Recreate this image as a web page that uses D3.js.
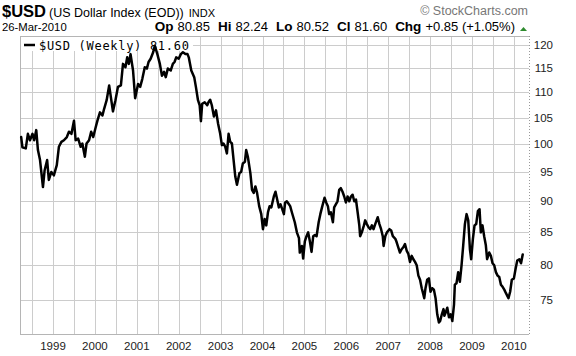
<!DOCTYPE html>
<html><head><meta charset="utf-8">
<script src="https://cdn.jsdelivr.net/npm/d3@7"></script>
<style>body{margin:0;background:#fff}svg{display:block;font-family:"Liberation Sans",Arial,sans-serif}</style>
</head><body>
<svg id="c" width="576" height="356"></svg>
<script>
// decimal-year week positions and weekly closes
const weeks = [1998.24,1998.27,1998.35,1998.40,1998.45,1998.51,1998.55,1998.60,1998.64,1998.69,1998.76,1998.80,1998.86,1998.90,1998.96,
1999.02,1999.09,1999.14,1999.20,1999.26,1999.33,1999.38,1999.44,1999.50,1999.54,1999.60,1999.66,1999.70,1999.76,1999.80,1999.86,1999.91,1999.96,
2000.02,2000.06,2000.12,2000.18,2000.22,2000.28,2000.34,2000.43,2000.49,2000.55,2000.62,2000.67,2000.73,2000.77,2000.81,2000.85,2000.91,2000.96,
2001.03,2001.08,2001.13,2001.19,2001.24,2001.28,2001.33,2001.39,2001.43,2001.49,2001.55,2001.60,2001.65,2001.69,2001.74,2001.81,2001.86,2001.90,2001.94,
2002.00,2002.05,2002.10,2002.16,2002.21,2002.24,2002.30,2002.37,2002.41,2002.46,2002.50,2002.53,2002.56,2002.62,2002.68,2002.71,2002.75,2002.79,2002.84,2002.89,2002.94,2002.99,
2003.03,2003.07,2003.11,2003.15,2003.19,2003.23,2003.27,2003.31,2003.35,2003.39,2003.45,2003.49,2003.53,2003.58,2003.61,2003.65,2003.71,2003.75,2003.79,2003.83,2003.87,2003.92,2003.97,
2004.01,2004.05,2004.09,2004.13,2004.17,2004.21,2004.27,2004.31,2004.35,2004.39,2004.43,2004.47,2004.51,2004.54,2004.58,2004.63,2004.66,2004.70,2004.77,2004.82,2004.87,2004.89,2004.94,2004.97,
2005.01,2005.05,2005.09,2005.13,2005.17,2005.21,2005.25,2005.29,2005.34,2005.38,2005.42,2005.48,2005.52,2005.56,2005.59,2005.63,2005.68,2005.71,2005.75,2005.79,2005.83,2005.87,2005.91,2005.95,2005.99,
2006.03,2006.07,2006.11,2006.15,2006.19,2006.23,2006.27,2006.31,2006.33,2006.37,2006.42,2006.45,2006.49,2006.53,2006.57,2006.61,2006.65,2006.69,2006.75,2006.79,2006.83,2006.87,2006.89,2006.93,2006.97,
2007.03,2007.07,2007.11,2007.17,2007.20,2007.24,2007.28,2007.32,2007.36,2007.40,2007.44,2007.48,2007.52,2007.56,2007.60,2007.64,2007.68,2007.72,2007.76,2007.80,2007.84,2007.86,2007.89,2007.93,2007.97,
2008.01,2008.05,2008.09,2008.13,2008.17,2008.21,2008.24,2008.28,2008.32,2008.34,2008.37,2008.41,2008.45,2008.49,2008.53,2008.57,2008.59,2008.63,2008.67,2008.71,2008.75,2008.79,2008.83,2008.87,2008.91,2008.95,2008.98,
2009.02,2009.06,2009.10,2009.14,2009.18,2009.21,2009.25,2009.29,2009.33,2009.36,2009.41,2009.45,2009.49,2009.53,2009.57,2009.61,2009.65,2009.69,2009.73,2009.77,2009.81,2009.87,2009.91,2009.95,
2010.00,2010.04,2010.08,2010.13,2010.17,2010.21];
const closes = [101.3,99.4,99.2,101.9,100.7,101.9,100.7,102.6,98.9,97.1,92.4,95.3,97.1,93.6,95.0,
94.4,96.2,99.5,100.4,100.7,101.3,102.3,101.9,104.4,100.7,101.0,99.5,100.1,97.7,100.1,100.7,102.3,101.3,
103.2,104.4,106.0,105.4,106.7,108.4,111.4,106.2,108.4,111.1,111.4,115.9,115.2,117.3,115.9,118.0,114.5,108.8,
111.7,111.1,112.7,115.2,114.9,116.3,117.0,118.4,119.8,118.0,115.9,113.4,114.2,113.1,114.9,114.5,115.9,116.3,117.3,
117.0,118.0,118.4,118.0,118.0,117.3,114.5,113.1,111.1,108.4,107.4,104.3,107.7,108.0,107.4,108.0,108.5,107.4,105.2,106.4,103.8,101.9,
99.8,100.1,99.5,98.3,101.9,100.4,100.1,97.1,94.2,92.8,94.8,95.0,96.5,96.8,98.9,97.7,94.8,91.9,91.4,92.5,91.4,89.2,87.9,
85.5,87.1,86.1,88.2,89.2,89.0,90.8,91.6,90.3,89.0,89.5,88.7,87.9,89.8,90.0,89.5,89.2,88.2,86.6,85.0,84.1,81.9,82.9,81.0,
83.6,84.4,85.0,83.6,82.0,84.4,84.6,84.4,86.6,87.9,89.0,90.6,89.8,89.2,87.9,88.2,86.6,89.0,89.5,90.0,91.9,92.2,91.6,90.8,89.8,
90.8,90.0,90.8,91.1,90.0,90.3,88.2,86.1,84.4,85.0,86.1,86.9,86.3,85.8,85.5,86.1,85.5,86.3,87.4,86.3,85.5,84.4,82.9,84.4,85.0,
85.5,85.3,84.4,84.0,83.5,82.7,81.9,82.4,82.7,83.2,82.2,81.7,80.5,81.4,80.9,80.5,80.0,78.5,77.9,76.7,75.8,75.3,76.7,77.9,78.1,
76.2,76.7,76.5,75.3,73.1,72.0,72.2,73.1,73.8,72.9,73.3,74.0,72.7,73.1,72.2,74.4,77.2,77.4,79.0,77.6,80.0,83.0,86.3,87.9,86.9,82.4,80.9,
83.9,86.1,86.3,88.4,88.7,85.0,86.1,84.4,83.0,80.9,81.9,81.4,80.3,80.0,79.0,78.5,78.3,77.2,76.9,76.5,76.0,75.3,76.2,77.9,
78.1,79.5,80.7,80.9,80.3,81.6];
const yTicks = [75,80,85,90,95,100,105,110,115,120];
const yearLabels = [1999,2000,2001,2002,2003,2004,2005,2006,2007,2008,2009,2010];
const halfYearGrid = d3.range(1998.5, 2010.01, 0.5);

const svg = d3.select("#c");
const L = 20, R = 529, T = 36, B = 334;
const x = d3.scaleLinear().domain([1998.212, 2010.36]).range([L, R]);
const y = d3.scaleLog().domain([70.5, 122]).range([B, T]);

// header
const h1 = svg.append("text").attr("x", 2).attr("y", 17).attr("fill", "#000");
h1.append("tspan").attr("font-weight", "bold").attr("font-size", 16.5).text("$USD");
h1.append("tspan").attr("font-size", 12.5).attr("dx", 3).text("(US Dollar Index (EOD))");
h1.append("tspan").attr("font-size", 11).attr("dx", 5).text("INDX");
svg.append("text").attr("x", 2).attr("y", 31).attr("font-size", 11.3).text("26-Mar-2010");
svg.append("text").attr("x", 528).attr("y", 15).attr("text-anchor", "end").attr("font-size", 12.5).attr("fill", "#777").text("\u00A9 StockCharts.com");
const h2 = svg.append("text").attr("x", 515).attr("y", 31).attr("text-anchor", "end");
[["Op","80.85"],["Hi","82.24"],["Lo","80.52"],["Cl","81.60"],["Chg","+0.85 (+1.05%)"]].forEach((p, i) => {
  h2.append("tspan").attr("font-weight", "bold").attr("font-size", 13.5).attr("dx", i ? 8 : 0).text(p[0]);
  h2.append("tspan").attr("font-size", 13).attr("dx", 4).text(p[1]);
});
svg.append("path").attr("d", "M520,31 L527,31 L523.5,27 Z").attr("fill", "#2e8b2e");

// grid
const g = svg.append("g");
g.selectAll(".vg").data(halfYearGrid).join("line")
  .attr("x1", d => Math.round(x(d)) + 0.5).attr("x2", d => Math.round(x(d)) + 0.5)
  .attr("y1", T).attr("y2", B).attr("stroke", "#cccccc").attr("stroke-width", 1);
g.selectAll(".hg").data(yTicks).join("line")
  .attr("x1", L).attr("x2", R).attr("y1", d => Math.round(y(d)) + 0.5).attr("y2", d => Math.round(y(d)) + 0.5)
  .attr("stroke", "#cccccc").attr("stroke-width", 1);

// frame
svg.append("line").attr("x1", L + 0.5).attr("x2", L + 0.5).attr("y1", T).attr("y2", B).attr("stroke", "#b5b5b5");
svg.append("line").attr("x1", L).attr("x2", R).attr("y1", T + 0.5).attr("y2", T + 0.5).attr("stroke", "#b5b5b5");
svg.append("line").attr("x1", L).attr("x2", R).attr("y1", B + 0.5).attr("y2", B + 0.5).attr("stroke", "#b5b5b5");
svg.append("line").attr("x1", R + 0.5).attr("x2", R + 0.5).attr("y1", T).attr("y2", B).attr("stroke", "#999").attr("stroke-dasharray", "1,2");

// legend box
svg.append("rect").attr("x", L + 1).attr("y", T + 1).attr("width", 172).attr("height", 14).attr("fill", "#fff");

// line
const data = weeks.map((w, i) => [w, closes[i]]);
svg.append("path").datum(data)
  .attr("fill", "none").attr("stroke", "#000").attr("stroke-width", 2.5)
  .attr("stroke-linejoin", "round").attr("stroke-linecap", "round")
  .attr("d", d3.line().x(d => x(d[0])).y(d => y(d[1])));

// legend
svg.append("line").attr("x1", 24).attr("x2", 35).attr("y1", 45).attr("y2", 45).attr("stroke", "#000").attr("stroke-width", 2.5);
svg.append("text").attr("x", 39).attr("y", 49.5).attr("font-family", "DejaVu Sans Mono, monospace")
  .attr("font-size", 12).attr("letter-spacing", 0.7).text("$USD (Weekly) " + closes[closes.length - 1].toFixed(2));

// right axis labels
svg.append("g").selectAll("text").data(yTicks).join("text")
  .attr("x", 553).attr("y", d => y(d) + 4).attr("text-anchor", "end").attr("font-size", 11.5).attr("fill", "#222")
  .text(d => d);
// bottom year labels
svg.append("g").selectAll("text").data(yearLabels).join("text")
  .attr("x", d => x(d)).attr("y", 350).attr("text-anchor", "middle").attr("font-size", 11.5).attr("fill", "#222")
  .text(d => d);
</script>
</body></html>
